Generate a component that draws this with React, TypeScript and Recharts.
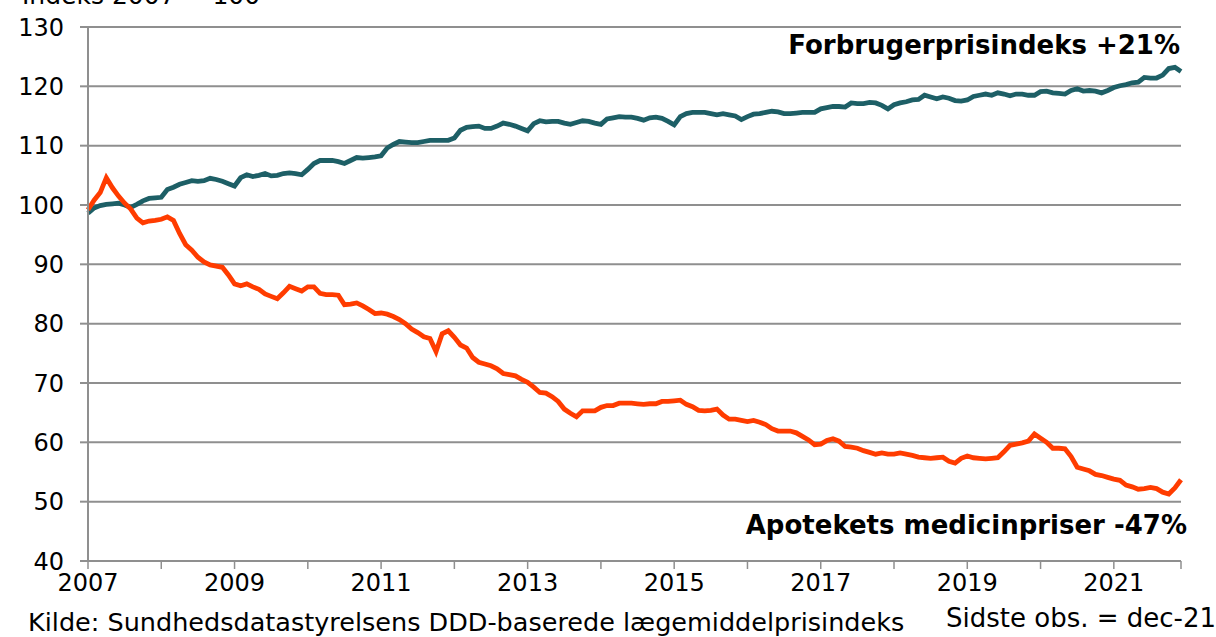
import React from 'react';
import { LineChart, Line, XAxis, YAxis, CartesianGrid } from 'recharts';

// Monthly index values, Jan 2007 - Dec 2021 (index 2007 = 100)
const cpiValues: number[] = [
  98.6, 99.5, 99.9, 100.1, 100.2, 100.3, 100.0, 99.6, 100.1, 100.7, 101.1, 101.2,
  101.3, 102.6, 103.0, 103.5, 103.8, 104.1, 104.0, 104.1, 104.5, 104.3, 104.0, 103.6,
  103.2, 104.6, 105.1, 104.8, 105.0, 105.3, 104.9, 105.0, 105.3, 105.4, 105.3, 105.1,
  106.0, 107.0, 107.5, 107.5, 107.5, 107.3, 107.0, 107.5, 108.0, 107.9, 108.0, 108.1,
  108.3, 109.6, 110.2, 110.7, 110.6, 110.5, 110.5, 110.7, 110.9, 110.9, 110.9, 110.9,
  111.3, 112.6, 113.1, 113.2, 113.3, 112.9, 112.9, 113.3, 113.8, 113.6, 113.3, 112.9,
  112.5, 113.7, 114.2, 114.0, 114.1, 114.1, 113.8, 113.6, 113.9, 114.2, 114.1, 113.8,
  113.6, 114.5, 114.7, 114.9, 114.8, 114.8, 114.6, 114.3, 114.7, 114.8, 114.6, 114.1,
  113.5, 114.9, 115.4, 115.6, 115.6, 115.6, 115.4, 115.2, 115.4, 115.2, 115.0, 114.4,
  114.9, 115.3, 115.4, 115.6, 115.8, 115.7, 115.4, 115.4, 115.5, 115.6, 115.6, 115.6,
  116.2, 116.4, 116.6, 116.6, 116.5, 117.2, 117.1, 117.1, 117.3, 117.2, 116.8, 116.2,
  116.9, 117.2, 117.4, 117.7, 117.8, 118.5, 118.2, 117.9, 118.2, 118.0, 117.6, 117.5,
  117.7, 118.3, 118.5, 118.7, 118.5, 118.9, 118.7, 118.4, 118.7, 118.7, 118.5, 118.5,
  119.1, 119.2, 118.9, 118.8, 118.7, 119.3, 119.6, 119.2, 119.3, 119.2, 118.9, 119.3,
  119.8, 120.1, 120.3, 120.6, 120.7, 121.5, 121.4, 121.4, 121.9, 123.0, 123.2, 122.5,
];

const medicineValues: number[] = [
  99.2, 100.8, 102.1, 104.6, 102.9, 101.5, 100.3, 99.3, 97.8, 97.0, 97.3, 97.4,
  97.6, 98.0, 97.4, 95.2, 93.3, 92.4, 91.2, 90.4, 89.9, 89.7, 89.5, 88.2,
  86.7, 86.4, 86.7, 86.2, 85.8, 85.0, 84.6, 84.2, 85.2, 86.3, 85.9, 85.5,
  86.2, 86.2, 85.1, 84.9, 84.9, 84.8, 83.2, 83.3, 83.5, 83.0, 82.4, 81.7,
  81.8, 81.6, 81.2, 80.7, 80.0, 79.1, 78.5, 77.8, 77.5, 75.3, 78.3, 78.8,
  77.7, 76.4, 75.9, 74.3, 73.5, 73.2, 72.9, 72.4, 71.6, 71.4, 71.2, 70.6,
  70.1, 69.3, 68.4, 68.3, 67.7, 66.9, 65.6, 64.9, 64.3, 65.3, 65.3, 65.3,
  65.9, 66.2, 66.2, 66.6, 66.6, 66.6, 66.5, 66.4, 66.5, 66.5, 66.9, 66.9,
  67.0, 67.1, 66.4, 66.0, 65.4, 65.3, 65.4, 65.6, 64.6, 63.9, 63.9, 63.7,
  63.5, 63.7, 63.4, 63.0, 62.3, 61.9, 61.9, 61.9, 61.6, 61.0, 60.4, 59.6,
  59.7, 60.3, 60.6, 60.2, 59.3, 59.2, 59.0, 58.6, 58.3, 58.0, 58.2, 58.0,
  58.0, 58.2, 58.0, 57.8, 57.5, 57.4, 57.3, 57.4, 57.5, 56.8, 56.5, 57.3,
  57.7, 57.4, 57.3, 57.2, 57.3, 57.4, 58.4, 59.5, 59.7, 59.9, 60.2, 61.4,
  60.7, 60.0, 59.0, 59.0, 58.9, 57.6, 55.8, 55.5, 55.2, 54.6, 54.4, 54.1,
  53.8, 53.6, 52.8, 52.5, 52.1, 52.2, 52.4, 52.2, 51.6, 51.3, 52.3, 53.7,
];

const startYear = 2007;
const yTicks = [40, 50, 60, 70, 80, 90, 100, 110, 120, 130];
const yearTickIndexes = [0, 12, 24, 36, 48, 60, 72, 84, 96, 108, 120, 132, 144, 156, 168, 179];
const labelledYears = [2007, 2009, 2011, 2013, 2015, 2017, 2019, 2021];

const titleText = 'Indeks 2007 = 100';
const cpiLabel = 'Forbrugerprisindeks +21%';
const medicineLabel = 'Apotekets medicinpriser -47%';
const sourceText = 'Kilde:  Sundhedsdatastyrelsens DDD-baserede lægemiddelprisindeks';
const lastObsText = 'Sidste obs. = dec-21';

const data = cpiValues.map((v, i) => ({
  i,
  month: `${startYear + Math.floor(i / 12)}-${String((i % 12) + 1).padStart(2, '0')}`,
  cpi: v,
  med: medicineValues[i],
}));

const FONT = '"DejaVu Sans", Verdana, sans-serif';
const GRID = '#8f8f8f';
const TEAL = '#1d5f66';
const ORANGE = '#ff3c00';

const xTickFormatter = (i: number) => {
  if (i % 12 !== 0) return '';
  const y = startYear + i / 12;
  return labelledYears.includes(y) ? String(y) : '';
};

const YTick = (props: any) => {
  const { y, payload } = props;
  return (
    <text x={64} y={y} dy={8.5} textAnchor="end" fontSize={24} fontFamily={FONT} fill="#000">
      {payload.value}
    </text>
  );
};

export default function App() {
  return (
    <div style={{ position: 'absolute', left: 0, top: 0, width: 1216, height: 637, background: '#fff', overflow: 'hidden' }}>
      <LineChart
        width={1216}
        height={637}
        data={data}
        margin={{ top: 27, right: 35, bottom: 36, left: 0 }}
      >
        <CartesianGrid vertical={false} stroke={GRID} strokeWidth={2} />
        <XAxis
          dataKey="i"
          type="number"
          domain={[0, 179]}
          ticks={yearTickIndexes}
          interval={0}
          tickFormatter={xTickFormatter}
          height={40}
          axisLine={{ stroke: GRID, strokeWidth: 2 }}
          tickLine={{ stroke: GRID, strokeWidth: 1.5 }}
          tickSize={8}
          tickMargin={5}
          tick={{ fontSize: 24, fill: '#000', fontFamily: FONT }}
        />
        <YAxis
          domain={[40, 130]}
          ticks={yTicks}
          interval={0}
          width={88}
          axisLine={{ stroke: GRID, strokeWidth: 2 }}
          tickLine={{ stroke: GRID, strokeWidth: 2 }}
          tickSize={8}
          tick={<YTick />}
        />
        <Line
          type="linear"
          dataKey="cpi"
          stroke={TEAL}
          strokeWidth={4.8}
          dot={false}
          isAnimationActive={false}
        />
        <Line
          type="linear"
          dataKey="med"
          stroke={ORANGE}
          strokeWidth={4.8}
          dot={false}
          isAnimationActive={false}
        />
      </LineChart>
      <svg
        width={1216}
        height={637}
        style={{ position: 'absolute', left: 0, top: 0, pointerEvents: 'none' }}
      >
        <text x={22} y={4} fontSize={25} fontFamily={FONT} fill="#000">{titleText}</text>
        <text x={1180} y={54} fontSize={26} fontWeight="bold" fontFamily={FONT} fill="#000" textAnchor="end">{cpiLabel}</text>
        <text x={1187} y={534} fontSize={26} fontWeight="bold" fontFamily={FONT} fill="#000" textAnchor="end">{medicineLabel}</text>
        <text x={28} y={631} fontSize={25.5} fontFamily={FONT} fill="#000">{sourceText}</text>
        <text x={946} y={627} fontSize={26} fontFamily={FONT} fill="#000">{lastObsText}</text>
      </svg>
    </div>
  );
}
